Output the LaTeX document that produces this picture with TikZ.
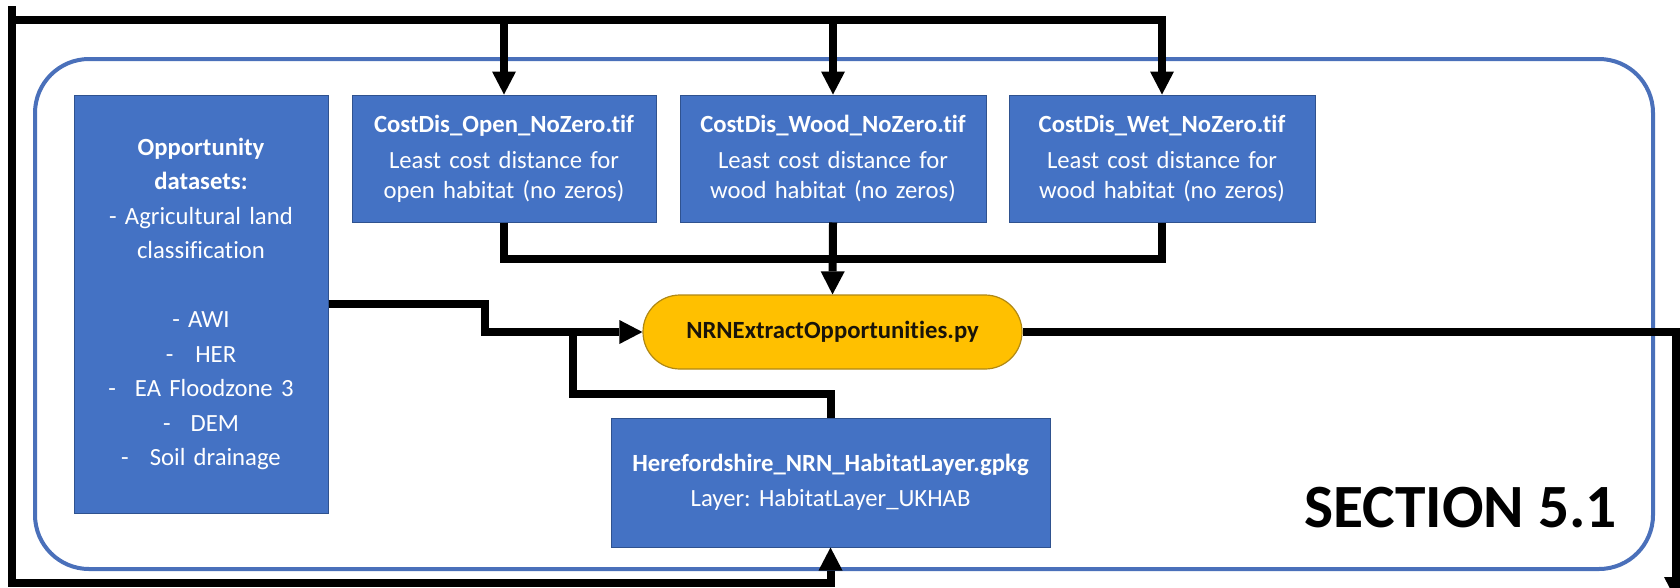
\documentclass[tikz,border=0pt]{standalone}
\usepackage{fontspec}
\setmainfont{Carlito}[Ligatures=NoCommon]
\frenchspacing
\usetikzlibrary{arrows.meta}

\definecolor{boxblue}{RGB}{68,114,196}
\definecolor{boxedge}{RGB}{47,82,143}
\definecolor{frameblue}{RGB}{74,112,186}
\definecolor{scriptfill}{RGB}{255,192,0}
\definecolor{scriptedge}{RGB}{176,136,20}
\definecolor{scripttext}{RGB}{25,20,10}

\tikzset{
  databox/.style={draw=boxedge, line width=1pt, fill=boxblue, text=white,
    align=center, inner sep=0pt, font=\fontsize{24.7}{30}\selectfont},
  scriptbox/.style={draw=scriptedge, line width=1.2pt, fill=scriptfill,
    text=scripttext, rounded corners=37pt, inner sep=0pt,
    minimum width=379pt, minimum height=74pt,
    font=\fontsize{24.7}{30}\selectfont\bfseries},
  frame/.style={draw=frameblue, line width=4pt, rounded corners=54pt},
  flow/.style={draw=black, line width=8pt},
  arrowed/.style={-{Triangle[length=23pt,width=24pt,line width=0pt]}}
}

\begin{document}
\begin{tikzpicture}[x=1pt, y=-1pt]
  \useasboundingbox (0,0) rectangle (1680,587);
  \fill[white] (0,0) rectangle (1680,587);

  % section frame
  \draw[frame] (35,59) rectangle (1653,569);

  % input datasets
  \node[databox, minimum width=254pt, minimum height=418pt, text width=240pt,
        font=\fontsize{24.7}{34.5}\selectfont] (opp) at (201,304)
    {{\bfseries Opportunity}\\ {\bfseries datasets:}\\ - Agricultural land\\ classification\\[34.5pt]
     - AWI\\ -\hspace{22pt}HER\\ -\hspace{19pt}EA Floodzone 3\\ -\hspace{20pt}DEM\\ -\hspace{21pt}Soil drainage};

  \node[databox, minimum width=304pt, minimum height=127pt, text width=296pt] (open) at (504,158.5)
    {{\bfseries CostDis\_Open\_NoZero.tif}\\[6pt] Least cost distance for\\ open habitat (no zeros)};
  \node[databox, minimum width=306pt, minimum height=127pt, text width=298pt] (wood) at (833,158.5)
    {{\bfseries CostDis\_Wood\_NoZero.tif}\\[6pt] Least cost distance for\\ wood habitat (no zeros)};
  \node[databox, minimum width=306pt, minimum height=127pt, text width=298pt] (wet) at (1162,158.5)
    {{\bfseries CostDis\_Wet\_NoZero.tif}\\[6pt] Least cost distance for\\ wood habitat (no zeros)};

  % processing script
  \node[scriptbox] (nrn) at (832.5,332) {NRNExtractOpportunities.py};

  % habitat layer
  \node[databox, minimum width=439pt, minimum height=129pt, text width=430pt] (hab) at (830.5,482.5)
    {{\bfseries Herefordshire\_NRN\_HabitatLayer.gpkg}\\[5pt] Layer: HabitatLayer\_UKHAB};

  % section label
  \node[font=\fontsize{61.5}{70}\selectfont\bfseries, inner sep=0pt] (sec) at (1460.5,508) {SECTION 5.1};

  % incoming loop around the section
  \coordinate (ltop) at (12,6);
  \coordinate (tl) at (12,20);
  \coordinate (bl) at (12,583);
  \draw[flow, arrowed] (ltop) -- (bl) -| (hab.south);
  \draw[flow, arrowed] (tl) -| (wet.north);
  \draw[flow, arrowed] (open.north |- tl) -- (open.north);
  \draw[flow, arrowed] (wood.north |- tl) -- (wood.north);

  % cost distance rasters into the script
  \coordinate (join) at (833,259);
  \draw[flow] (open.south) |- (join) -| (wet.south);
  \draw[flow, arrowed] (wood.south) -- (nrn.north);

  % datasets and habitat layer into the script
  \coordinate (step1) at (485,304);
  \coordinate (step2) at (485,332);
  \draw[flow, arrowed] (opp.east) -- (step1) -- (step2) -- (nrn.west);
  \coordinate (habup) at (830.5,394);
  \coordinate (merge) at (573,332);
  \draw[flow] (hab.north) -- (habup) -| (merge);

  % script output leaving the section
  \coordinate (exitc) at (1676,600);
  \draw[flow, arrowed] (nrn.east) -| (exitc);
\end{tikzpicture}
\end{document}
